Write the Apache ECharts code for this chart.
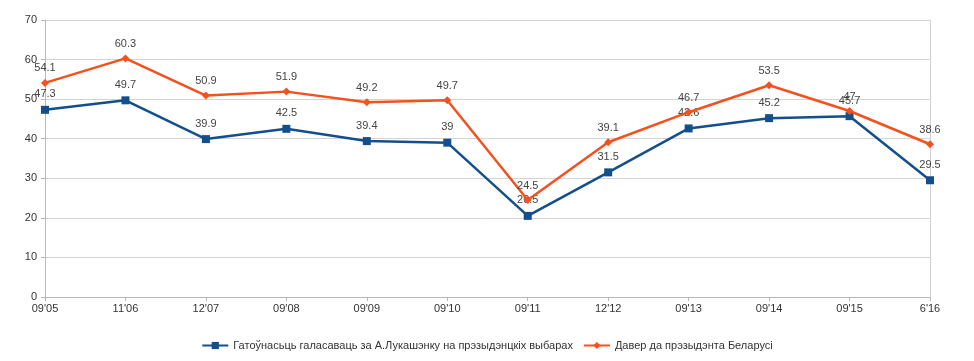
<!DOCTYPE html>
<html><head><meta charset="utf-8">
<script src="https://cdn.jsdelivr.net/npm/echarts@6/dist/echarts.min.js"></script>
<style>html,body{margin:0;padding:0;background:#fff}#c{width:974px;height:361px}</style>
</head><body><div id="c"></div>
<script>
const categories = ["09'05","11'06","12'07","09'08","09'09","09'10","09'11","12'12","09'13","09'14","09'15","6'16"];
const readiness = [47.3,49.7,39.9,42.5,39.4,39,20.5,31.5,42.6,45.2,45.7,29.5];
const trust = [54.1,60.3,50.9,51.9,49.2,49.7,24.5,39.1,46.7,53.5,47,38.6];
const seriesNames = ["Гатоўнасьць галасаваць за А.Лукашэнку на прэзыдэнцкіх выбарах","Давер да прэзыдэнта Беларусі"];
const yTicks = {min:0,max:70,interval:10};

const chart = echarts.init(document.getElementById('c'));
const font = 'Liberation Sans, Arial, sans-serif';
chart.setOption({
  animation:false,
  textStyle:{fontFamily:font},
  grid:{left:45,right:44,top:20,bottom:64,containLabel:false},
  legend:{
    bottom:5,left:'center',itemGap:10,itemWidth:26,itemHeight:9,
    textStyle:{fontSize:11,color:'#333',fontFamily:font},
    data:seriesNames
  },
  xAxis:{
    type:'category',data:categories,boundaryGap:false,
    axisLine:{lineStyle:{color:'#b8b8b8'}},
    axisTick:{show:true,alignWithLabel:true,length:4,lineStyle:{color:'#b8b8b8'}},
    axisLabel:{color:'#333',fontSize:11,margin:6,fontFamily:font},
    splitLine:{show:false}
  },
  yAxis:[{
    type:'value',min:yTicks.min,max:yTicks.max,interval:yTicks.interval,
    axisLine:{show:true,lineStyle:{color:'#b8b8b8'}},
    axisTick:{show:true,length:4,lineStyle:{color:'#b8b8b8'}},
    axisLabel:{color:'#333',fontSize:11,margin:8,fontFamily:font},
    splitLine:{show:true,lineStyle:{color:'#d4d4d4',width:1}}
  },{
    type:'value',min:yTicks.min,max:yTicks.max,interval:yTicks.interval,position:'right',
    axisLine:{show:true,lineStyle:{color:'#d0d0d0'}},
    axisTick:{show:false},axisLabel:{show:false},splitLine:{show:false}
  }],
  series:[{
    name:seriesNames[0],type:'line',data:readiness,
    symbol:'rect',symbolSize:8,
    lineStyle:{color:'#134f8c',width:2.5},
    itemStyle:{color:'#134f8c'},
    label:{show:true,position:'top',distance:6,color:'#444',fontSize:11,fontFamily:font},
    z:2
  },{
    name:seriesNames[1],type:'line',data:trust,
    symbol:'diamond',symbolSize:8,
    lineStyle:{color:'#f4511e',width:2.5},
    itemStyle:{color:'#f4511e'},
    label:{show:true,position:'top',distance:5,color:'#444',fontSize:11,fontFamily:font},
    z:3
  }]
});
</script></body></html>
